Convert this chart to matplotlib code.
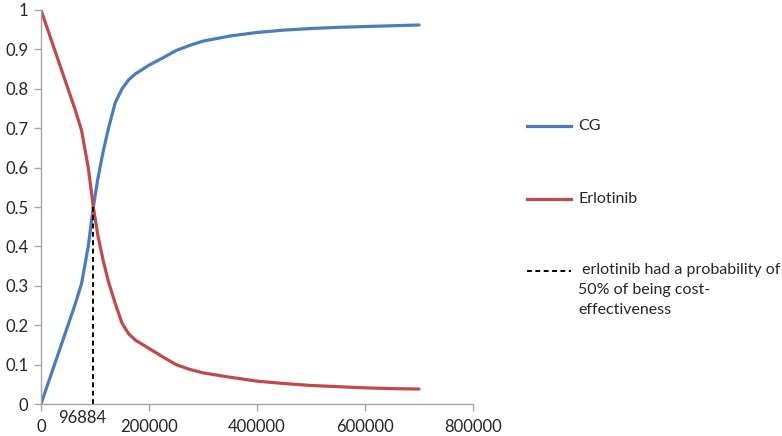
import matplotlib.pyplot as plt
from matplotlib.lines import Line2D

plt.rcParams['font.family'] = ['Lato', 'DejaVu Sans']

# willingness-to-pay thresholds
wtp = [0, 12500, 25000, 37500, 50000, 62500, 75000, 87500, 96884, 105000, 115000,
       125000, 137500, 150000, 162500, 175000, 200000, 225000, 250000, 275000, 300000,
       350000, 400000, 450000, 500000, 550000, 600000, 650000, 700000]
cg = [0, 0.05, 0.1, 0.15, 0.2, 0.25, 0.305, 0.40, 0.5, 0.57, 0.64,
      0.70, 0.765, 0.80, 0.823, 0.838, 0.86, 0.878, 0.897, 0.91, 0.921,
      0.934, 0.943, 0.949, 0.953, 0.956, 0.958, 0.960, 0.962]
erlotinib = [1, 0.95, 0.9, 0.85, 0.8, 0.75, 0.695, 0.6, 0.5, 0.43, 0.365,
             0.31, 0.255, 0.205, 0.178, 0.162, 0.141, 0.12, 0.1, 0.088, 0.079,
             0.068, 0.058, 0.052, 0.047, 0.044, 0.041, 0.039, 0.038]
threshold = 96884
xticks = [0, 200000, 400000, 600000, 800000]
yticks = [0, 0.1, 0.2, 0.3, 0.4, 0.5, 0.6, 0.7, 0.8, 0.9, 1]

blue = '#4a7ebb'
red = '#be4b48'
grey = '#a6a6a6'

fig = plt.figure(figsize=(7.82, 4.36), dpi=100)
ax = fig.add_axes([41 / 782, 32 / 436, 432 / 782, 394 / 436])

ax.plot(wtp, cg, color=blue, lw=2.3, solid_capstyle='round', solid_joinstyle='round')
ax.plot(wtp, erlotinib, color=red, lw=2.3, solid_capstyle='round', solid_joinstyle='round')
ax.plot([threshold, threshold], [0, 0.5], color='black', lw=1.4, ls=(0, (2.5, 1.8)))

ax.set_xlim(0, 800000)
ax.set_ylim(0, 1)
ax.set_xticks(xticks)
ax.set_xticklabels([str(v) for v in xticks])
ax.set_yticks(yticks)
ax.set_yticklabels(['0', '0.1', '0.2', '0.3', '0.4', '0.5', '0.6', '0.7', '0.8', '0.9', '1'])
ax.annotate(str(threshold), xy=(threshold, 0), xytext=(-11, -14), textcoords='offset pixels',
            ha='center', va='center', fontsize=12, color='#262626', annotation_clip=False)

for s in ['top', 'right']:
    ax.spines[s].set_visible(False)
for s in ['left', 'bottom']:
    ax.spines[s].set_color(grey)
    ax.spines[s].set_linewidth(1)
ax.tick_params(axis='both', colors=grey, length=5, width=1, labelsize=12, labelcolor='#262626')
ax.tick_params(axis='x', pad=6)
ax.tick_params(axis='y', pad=4)

# legend on the right
def legend_line(y, color, ls, lw):
    fig.add_artist(Line2D([527 / 782, 571 / 782], [1 - y / 436, 1 - y / 436],
                          color=color, ls=ls, lw=lw))

legend_line(126, blue, '-', 2.3)
fig.text(578 / 782, 1 - 126 / 436, 'CG', ha='left', va='center', fontsize=11.5, color='#262626')
legend_line(199, red, '-', 2.3)
fig.text(578 / 782, 1 - 199 / 436, 'Erlotinib', ha='left', va='center', fontsize=11.5, color='#262626')
legend_line(271, 'black', (0, (2.5, 1.8)), 1.4)
fig.text(578 / 782, 1 - 263 / 436,
         ' erlotinib had a probability of\n50% of being cost-\neffectiveness',
         ha='left', va='top', fontsize=11.5, color='#262626', linespacing=1.55)

fig.savefig('out.png', dpi=100)
